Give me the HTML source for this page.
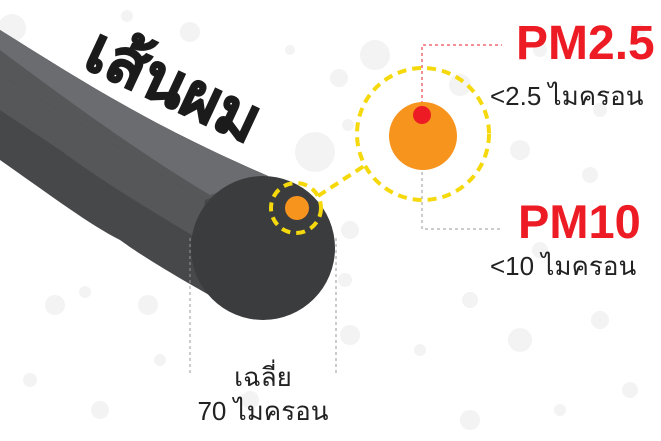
<!DOCTYPE html>
<html><head><meta charset="utf-8"><style>
body{margin:0;width:661px;height:441px;background:#fff;overflow:hidden;position:relative;font-family:"Liberation Sans","Noto Sans CJK SC",sans-serif}
.t{position:absolute;white-space:nowrap}
</style></head><body>
<svg width="661" height="441" style="position:absolute;left:0;top:0">
<g fill="#f3f3f3">
<circle cx="12" cy="28" r="14"/><circle cx="127" cy="16" r="6"/><circle cx="190" cy="32" r="10"/><circle cx="290" cy="50" r="5"/><circle cx="339" cy="78" r="9"/><circle cx="315" cy="152" r="20"/><circle cx="348" cy="125" r="6"/><circle cx="375" cy="55" r="15"/><circle cx="460" cy="85" r="11"/><circle cx="520" cy="150" r="10"/><circle cx="590" cy="175" r="8"/><circle cx="640" cy="30" r="6"/><circle cx="600" cy="110" r="7"/><circle cx="350" cy="230" r="9"/><circle cx="345" cy="280" r="7"/><circle cx="350" cy="335" r="10"/><circle cx="420" cy="350" r="6"/><circle cx="470" cy="300" r="8"/><circle cx="520" cy="340" r="12"/><circle cx="600" cy="320" r="9"/><circle cx="630" cy="390" r="8"/><circle cx="560" cy="410" r="6"/><circle cx="470" cy="420" r="10"/><circle cx="55" cy="305" r="10"/><circle cx="85" cy="292" r="6"/><circle cx="148" cy="305" r="10"/><circle cx="30" cy="380" r="7"/><circle cx="100" cy="410" r="9"/><circle cx="160" cy="360" r="6"/><circle cx="250" cy="400" r="9"/><circle cx="540" cy="50" r="7"/><circle cx="540" cy="250" r="8"/>
</g>
<path d="M0 30 C80 80 150 125 268 176 L250 318 C200 290 150 262 120 240 C90 225 50 195 0 160 Z" fill="#47484a"/>
<path d="M0 30 C80 80 150 125 268 176 L205 200 C150 170 110 140 0 75 Z" fill="#565759"/>
<path d="M0 30 C80 80 150 125 268 176 L210 195 C160 165 100 125 0 50 Z" fill="#6b6c70"/>
<path d="M0 75 C110 140 150 170 205 200 L200 240 C150 210 100 180 60 150 L0 110 Z" fill="#565759"/>
<circle cx="263" cy="248" r="72" fill="#3b3c3e"/>
<g stroke="#999" stroke-width="1" stroke-dasharray="3,3" fill="none">
<line x1="190" y1="238" x2="190" y2="375"/><line x1="336" y1="238" x2="336" y2="375"/>
<polyline points="422,160 422,229 502,229"/>
</g>
<polyline points="422,110 422,45 502,45" stroke="#e8202a" stroke-width="1" stroke-dasharray="3,3" fill="none"/>
<g stroke="#f5d90c" stroke-width="4" stroke-dasharray="9,6" fill="none">
<circle cx="296" cy="208" r="25"/>
<circle cx="423" cy="134" r="66"/>
<line x1="318" y1="196" x2="364" y2="166"/>
</g>
<circle cx="297" cy="208" r="12" fill="#f7941d"/>
<circle cx="423" cy="136" r="34" fill="#f7941d"/>
<circle cx="422" cy="115" r="9" fill="#ed1c24"/>
</svg>
<div class="t" style="left:112px;top:0px;font-size:64px;font-weight:bold;color:#1b1b1b;transform:rotate(25deg);transform-origin:left top;-webkit-text-stroke:1.5px #1b1b1b">เส้นผม</div>
<div class="t" style="left:516px;top:16px;font-size:48px;font-weight:bold;color:#ed1c24">PM2.5</div>
<div class="t" style="left:490px;top:76px;font-size:26px;color:#222">&lt;2.5 ไมครอน</div>
<div class="t" style="left:518px;top:194px;font-size:47px;font-weight:bold;color:#ed1c24">PM10</div>
<div class="t" style="left:490px;top:246px;font-size:26px;color:#222">&lt;10 ไมครอน</div>
<div class="t" style="left:163px;width:200px;text-align:center;top:360px;font-size:26px;color:#222;line-height:34px">เฉลี่ย<br>70 ไมครอน</div>
</body></html>
